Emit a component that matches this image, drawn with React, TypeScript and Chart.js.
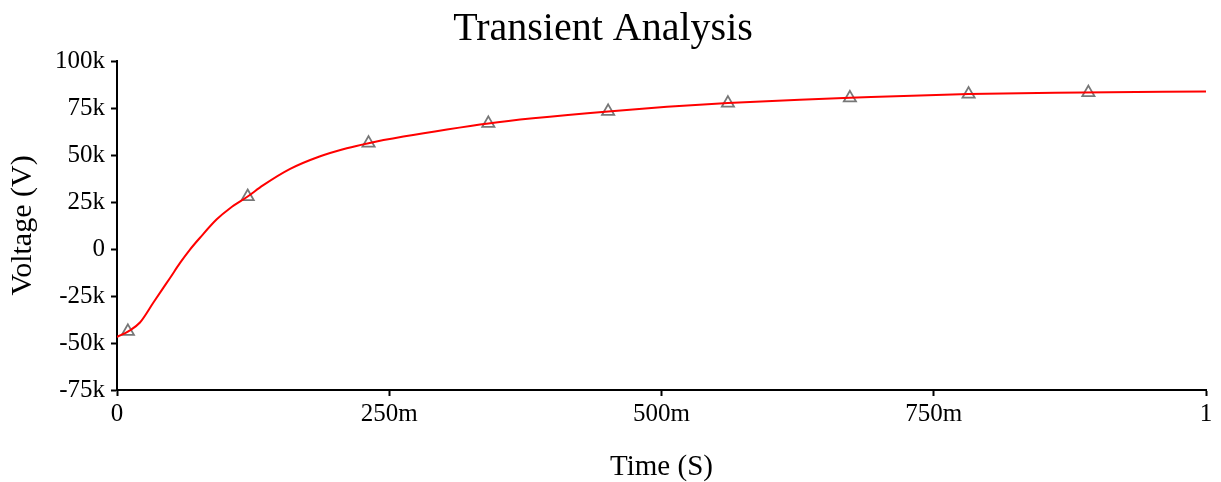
import React, { useEffect, useRef } from "react";
import { Chart, registerables } from "chart.js";

Chart.register(...registerables);

// Curve samples: time (s) and voltage (kV)
const curveT = [0, 0.0104, 0.0211, 0.0333, 0.0425, 0.0487, 0.0579, 0.067, 0.0762, 0.0916, 0.1038, 0.12, 0.134, 0.159, 0.186, 0.211, 0.231, 0.263, 0.303, 0.341, 0.382, 0.451, 0.505, 0.561, 0.627, 0.673, 0.782, 0.887, 1.0];
const curveV = [-46.8, -43.8, -39.1, -28.6, -20.7, -15.4, -7.4, -0.3, 6.0, 15.8, 21.7, 27.9, 33.8, 42.6, 49.2, 53.6, 56.3, 59.8, 63.6, 66.8, 69.5, 73.2, 75.6, 77.6, 79.4, 80.4, 82.4, 83.2, 83.8];

// Marker samples
const markerT = [0.01, 0.12, 0.231, 0.341, 0.451, 0.561, 0.673, 0.782, 0.892];
const markerV = [-43.8, 27.9, 56.3, 66.8, 73.2, 77.6, 80.4, 82.4, 83.2];

const yTicks = [-75, -50, -25, 0, 25, 50, 75, 100];
const xTickLabels = ["0", "250m", "500m", "750m", "1"];

const FONT = "'Liberation Serif', 'Times New Roman', serif";

export default function App() {
  const ref = useRef<HTMLCanvasElement | null>(null);

  useEffect(() => {
    if (!ref.current) return;
    const chart = new Chart(ref.current, {
      type: "line",
      data: {
        datasets: [
          {
            label: "V",
            data: curveT.map((t, i) => ({ x: t, y: curveV[i] * 1000 })),
            borderColor: "#ff0000",
            borderWidth: 2,
            pointRadius: 0,
            cubicInterpolationMode: "monotone",
            fill: false,
          },
          {
            label: "markers",
            data: markerT.map((t, i) => ({ x: t, y: markerV[i] * 1000 })),
            showLine: false,
            pointStyle: "triangle",
            pointRadius: 7,
            pointBorderColor: "#777777",
            pointBackgroundColor: "rgba(0,0,0,0)",
            pointBorderWidth: 1.8,
          },
        ],
      },
      options: {
        responsive: false,
        animation: false,
        layout: { padding: { top: 0, left: 0, right: 15, bottom: 0 } },
        plugins: {
          legend: { display: false },
          tooltip: { enabled: false },
          title: {
            display: true,
            text: "Transient Analysis",
            color: "#000",
            font: { family: FONT, size: 40, weight: "normal" },
            padding: { top: 5, bottom: 8 },
          },
        },
        scales: {
          x: {
            type: "linear",
            min: 0,
            max: 1,
            afterFit: (s: any) => {
              s.height = 92;
            },
            afterBuildTicks: (s: any) => {
              s.ticks = xTickLabels.map((_, i) => ({ value: i * 0.25 }));
            },
            ticks: {
              color: "#000",
              font: { family: FONT, size: 25 },
              padding: 3,
              maxRotation: 0,
              autoSkip: false,
              callback: (_v: any, i: number) => xTickLabels[i],
            },
            grid: {
              drawOnChartArea: false,
              drawTicks: true,
              tickLength: 6,
              tickWidth: 2,
              tickColor: "#000",
            },
            border: { display: true, color: "#000", width: 2 },
            title: {
              display: true,
              text: "Time (S)",
              color: "#000",
              font: { family: FONT, size: 29, lineHeight: 1.0 },
              padding: 0,
            },
          },
          y: {
            type: "linear",
            min: -75000,
            max: 100000,
            afterFit: (s: any) => {
              s.width = 117;
            },
            afterBuildTicks: (s: any) => {
              s.ticks = yTicks.map((v) => ({ value: v * 1000 }));
            },
            ticks: {
              color: "#000",
              font: { family: FONT, size: 25 },
              padding: 6,
              autoSkip: false,
              callback: (v: any) => (v === 0 ? "0" : `${Math.round(Number(v) / 1000)}k`),
            },
            grid: {
              drawOnChartArea: false,
              drawTicks: true,
              tickLength: 6,
              tickWidth: 2,
              tickColor: "#000",
            },
            border: { display: true, color: "#000", width: 2 },
            title: {
              display: true,
              text: "Voltage (V)",
              color: "#000",
              font: { family: FONT, size: 30 },
              padding: { top: 5, bottom: 0 },
            },
          },
        },
      },
    });
    return () => chart.destroy();
  }, []);

  return (
    <div style={{ position: "fixed", left: 0, top: 0, width: 1221, height: 482, background: "#fff" }}>
      <canvas ref={ref} width={1221} height={482} style={{ width: 1221, height: 482, display: "block" }} />
    </div>
  );
}
